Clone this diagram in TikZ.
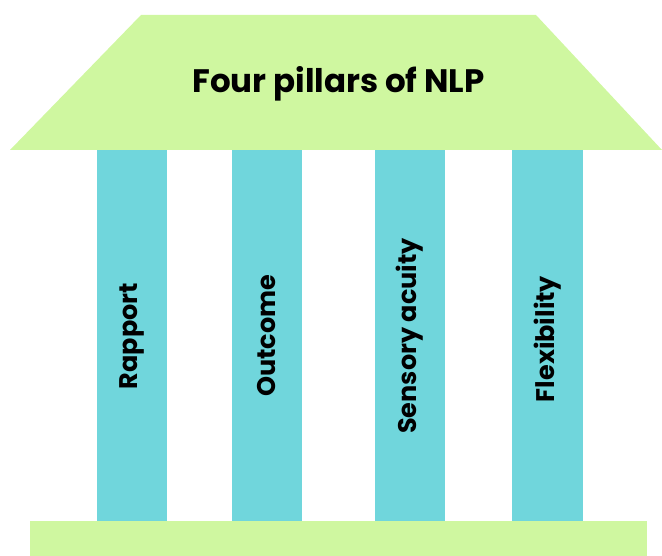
\documentclass[tikz,border=0pt]{standalone}
\usepackage{fontspec}
\setmainfont{Poppins}
\definecolor{roofgreen}{HTML}{CFF7A0}
\definecolor{pillarblue}{HTML}{70D6DC}
\begin{document}
\begin{tikzpicture}[x=1pt,y=-1pt,
  roof/.style={fill=roofgreen,draw=none},
  pillar/.style={fill=pillarblue,draw=none},
  pillartext/.style={rotate=90,font=\bfseries\fontsize{25.5}{28}\selectfont,text=black,inner sep=0pt},
  titletext/.style={font=\bfseries\fontsize{32.5}{36}\selectfont,text=black,inner sep=0pt}]
\useasboundingbox (0,0) rectangle (662,556);
% roof
\path[roof] (141,15) -- (536,15) -- (662,150) -- (10,150) -- cycle;
\node[titletext,anchor=base] (title) at (338.5,93) {Four pillars of NLP};
% pillars
\path[pillar] (97,150) rectangle (167,521);
\path[pillar] (232,150) rectangle (302,521);
\path[pillar] (375,150) rectangle (445,521);
\path[pillar] (512,150) rectangle (583,521);
\node[pillartext] (p1) at (132,336) {Rapport};
\node[pillartext] (p2) at (267,336) {Outcome};
\node[pillartext] (p3) at (410,336) {Sensory acuity};
\node[pillartext] (p4) at (547.5,339) {Flexibility};
% base
\path[roof] (30,521) rectangle (647,556);
\end{tikzpicture}
\end{document}
